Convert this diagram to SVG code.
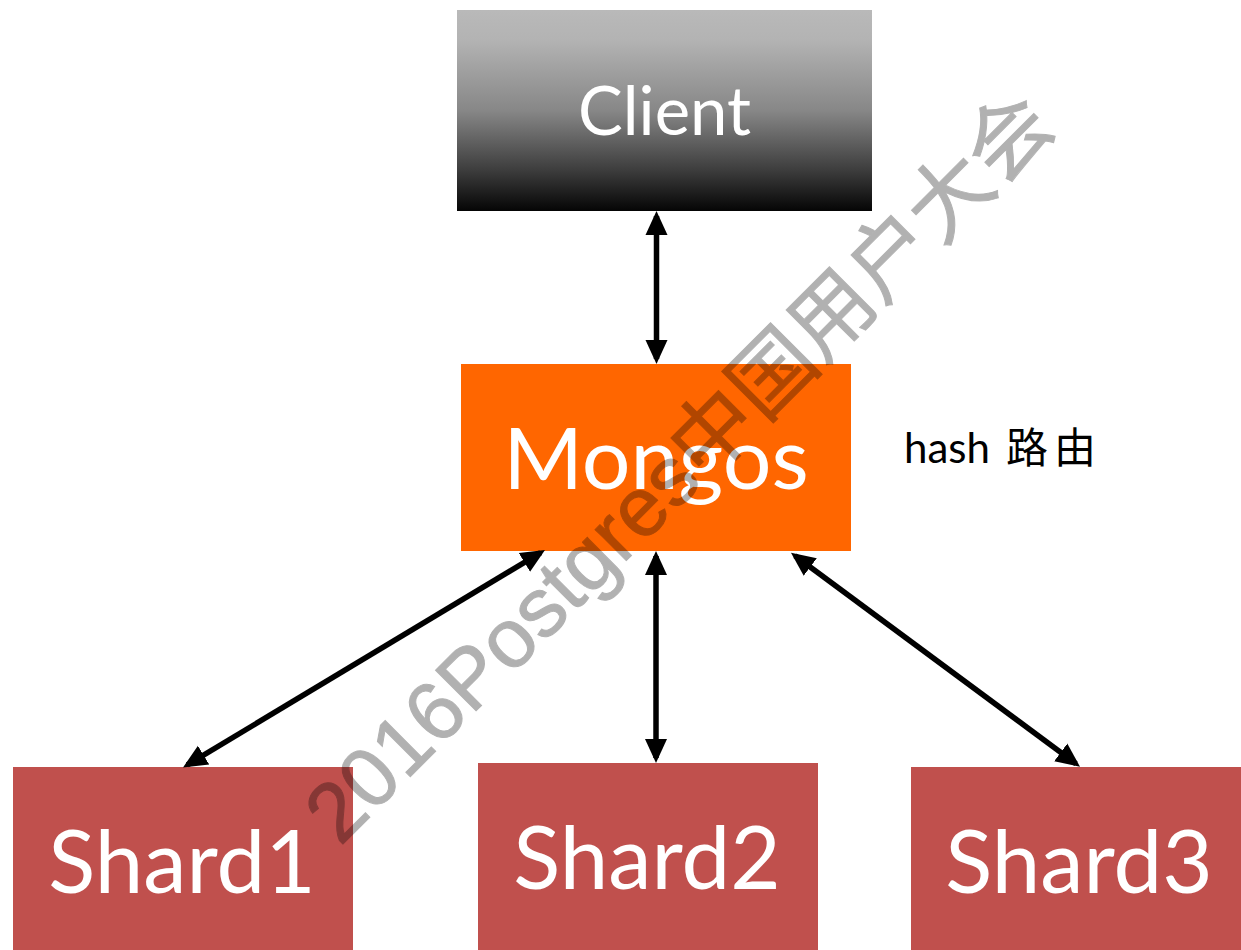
<svg xmlns="http://www.w3.org/2000/svg" width="1241" height="950" viewBox="0 0 1241 950">
  <style>
    .label { font-family: Lato, "Noto Sans", sans-serif; fill: #ffffff; text-anchor: middle; }
    .shard rect { fill: #c0504d; }
    .shard text { font-size: 87px; }
    .link { stroke: #000000; stroke-width: 5.5; fill: none; marker-start: url(#head); marker-end: url(#head); }
    .note { font-family: Lato, "Noto Sans CJK SC", sans-serif; font-size: 42px; fill: #000000; }
    .mark { font-family: "Liberation Sans", "Noto Sans CJK SC", sans-serif; font-size: 83.5px; fill: #000000; stroke: #000000; stroke-width: 1; }
  </style>
  <defs>
    <linearGradient id="clientFill" x1="0" y1="0" x2="0" y2="1">
      <stop offset="0" stop-color="#b9b9b9"/>
      <stop offset="0.15" stop-color="#b3b3b3"/>
      <stop offset="0.5" stop-color="#878787"/>
      <stop offset="0.8" stop-color="#3c3c3c"/>
      <stop offset="1" stop-color="#050505"/>
    </linearGradient>
    <marker id="head" markerUnits="userSpaceOnUse" markerWidth="24" markerHeight="24" viewBox="0 0 24 24" refX="19" refY="12" orient="auto-start-reverse">
      <path d="M0,1 L24,12 L0,23 z" fill="#000000"/>
    </marker>
  </defs>

  <rect width="1241" height="950" fill="#ffffff"/>

  <!-- nodes -->
  <g id="client">
    <rect x="457" y="10" width="415" height="201" fill="url(#clientFill)"/>
    <text class="label" x="664.5" y="135" font-size="67">Client</text>
  </g>
  <g id="mongos">
    <rect x="461" y="364" width="390" height="187" fill="#ff6600"/>
    <text class="label" x="656" y="489" font-size="86">Mongos</text>
  </g>
  <g id="shard1" class="shard">
    <rect x="13" y="767" width="340" height="183"/>
    <text class="label" x="182" y="893">Shard1</text>
  </g>
  <g id="shard2" class="shard">
    <rect x="478" y="763" width="340" height="187"/>
    <text class="label" x="647" y="889">Shard2</text>
  </g>
  <g id="shard3" class="shard">
    <rect x="911" y="767" width="330" height="183"/>
    <text class="label" x="1079" y="893">Shard3</text>
  </g>

  <!-- routing note -->
  <g id="hash-note">
    <text class="note" x="904" y="463">hash<tspan x="1006" font-family="'Noto Sans CJK SC', sans-serif">路</tspan><tspan x="1054" font-family="'Noto Sans CJK SC', sans-serif">由</tspan></text>
  </g>

  <!-- connectors (double-headed) -->
  <g id="connectors">
    <line class="link" x1="656.5" y1="216" x2="656.5" y2="359"/>
    <line class="link" x1="656" y1="556" x2="656" y2="758"/>
    <line class="link" x1="540.7" y1="552.6" x2="187.3" y2="764.9"/>
    <line class="link" x1="795" y1="555.7" x2="1076" y2="763.7"/>
  </g>

  <!-- diagonal watermark, translucent over everything -->
  <g opacity="0.3">
    <text class="mark" transform="translate(340 847) rotate(-45)" x="0" y="0">2016Postgres中国用户大会</text>
  </g>
</svg>
